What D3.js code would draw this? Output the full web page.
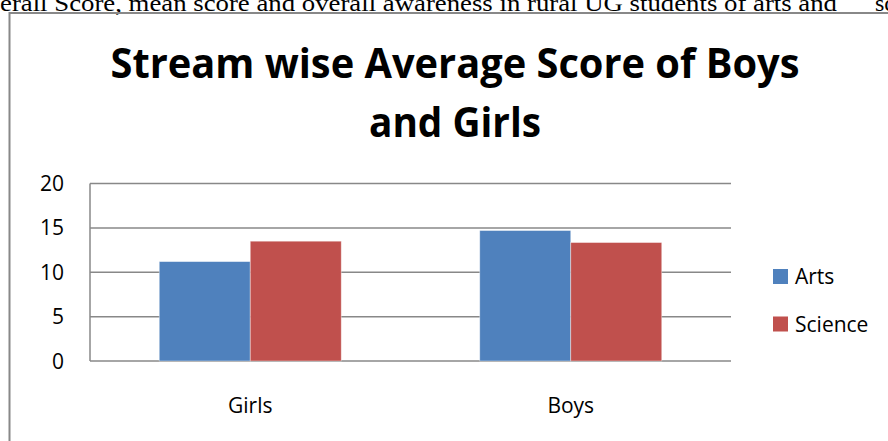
<!DOCTYPE html>
<meta charset="utf-8">
<script src="https://d3js.org/d3.v7.min.js"></script>
<style>
  body { margin: 0; background: #fff; }
  svg { display: block; }
</style>
<svg id="chart" width="888" height="441"></svg>
<script>
// data
var groups = ["Girls", "Boys"];
var streams = ["Arts", "Science"];
var arts = [11.2, 14.7];
var science = [13.5, 13.35];
var yTicks = [0, 5, 10, 15, 20];
var colors = ["#4F81BD", "#C0504D"];

var svg = d3.select("#chart");
var font = "'Open Sans', 'Liberation Sans', sans-serif";

// bit of page text cut off above the chart
svg.append("text")
    .attr("x", 0).attr("y", 11)
    .attr("font-family", "'Liberation Serif', 'Times New Roman', serif")
    .attr("font-size", 24)
    .attr("textLength", 837).attr("lengthAdjust", "spacingAndGlyphs")
    .text("erall Score, mean score and overall awareness in rural UG students of arts and");
svg.append("text")
    .attr("x", 875).attr("y", 11)
    .attr("font-family", "'Liberation Serif', 'Times New Roman', serif")
    .attr("font-size", 24)
    .text("sc");

// chart frame
svg.append("rect")
    .attr("x", 9.5).attr("y", 13)
    .attr("width", 900).attr("height", 440)
    .attr("fill", "none")
    .attr("stroke", "#888")
    .attr("stroke-width", 2);

// title
var title = svg.append("g")
    .attr("font-family", font)
    .attr("font-weight", "bold")
    .attr("font-size", 41)
    .attr("fill", "#000")
    .attr("text-anchor", "middle");
title.append("text").attr("x", 455).attr("y", 78)
    .attr("textLength", 689).attr("lengthAdjust", "spacingAndGlyphs")
    .text("Stream wise Average Score of Boys");
title.append("text").attr("x", 455).attr("y", 137)
    .attr("textLength", 172).attr("lengthAdjust", "spacingAndGlyphs")
    .text("and Girls");

// scales
var x0 = d3.scaleBand().domain(groups).range([90, 731]);
var x1 = d3.scaleBand().domain(streams).range([0, 182]);
var y = d3.scaleLinear().domain([0, 20]).range([361, 183.5]);

// gridlines
svg.append("g").selectAll("line")
    .data(yTicks)
    .enter().append("line")
    .attr("x1", 90).attr("x2", 731)
    .attr("y1", d => y(d)).attr("y2", d => y(d))
    .attr("stroke", "#888").attr("stroke-width", 1.5);

// value axis line
svg.append("line")
    .attr("x1", 90).attr("x2", 90)
    .attr("y1", y(20)).attr("y2", y(0))
    .attr("stroke", "#888").attr("stroke-width", 1.5);

// y tick labels
svg.append("g").selectAll("text")
    .data(yTicks)
    .enter().append("text")
    .attr("x", 64).attr("y", d => y(d))
    .attr("dy", "0.36em")
    .attr("text-anchor", "end")
    .attr("font-family", font).attr("font-size", 21)
    .text(d => d);

// bars
var table = groups.map((g, i) => ({ group: g, values: [arts[i], science[i]] }));
var gg = svg.append("g").selectAll("g")
    .data(table)
    .enter().append("g")
    .attr("transform", d => "translate(" + (x0(d.group) + (x0.bandwidth() - 182) / 2) + ",0)");

gg.selectAll("rect")
    .data(d => d.values.map((v, j) => ({ stream: streams[j], value: v, j: j })))
    .enter().append("rect")
    .attr("x", d => x1(d.stream))
    .attr("width", x1.bandwidth())
    .attr("y", d => y(d.value))
    .attr("height", d => y(0) - y(d.value))
    .attr("fill", d => colors[d.j])
    .attr("stroke", "rgba(255,255,255,0.5)")
    .attr("stroke-width", 0.8);

// category labels
svg.append("g").selectAll("text")
    .data(groups)
    .enter().append("text")
    .attr("x", d => x0(d) + x0.bandwidth() / 2)
    .attr("y", 413)
    .attr("text-anchor", "middle")
    .attr("font-family", font).attr("font-size", 21)
    .text(d => d);

// legend
var legend = svg.append("g").selectAll("g")
    .data(streams)
    .enter().append("g")
    .attr("transform", (d, i) => "translate(773," + (269 + i * 47.5) + ")");
legend.append("rect")
    .attr("width", 15).attr("height", 15)
    .attr("fill", (d, i) => colors[i]);
legend.append("text")
    .attr("x", 22).attr("y", 15)
    .attr("font-family", font).attr("font-size", 21)
    .text(d => d);
</script>
